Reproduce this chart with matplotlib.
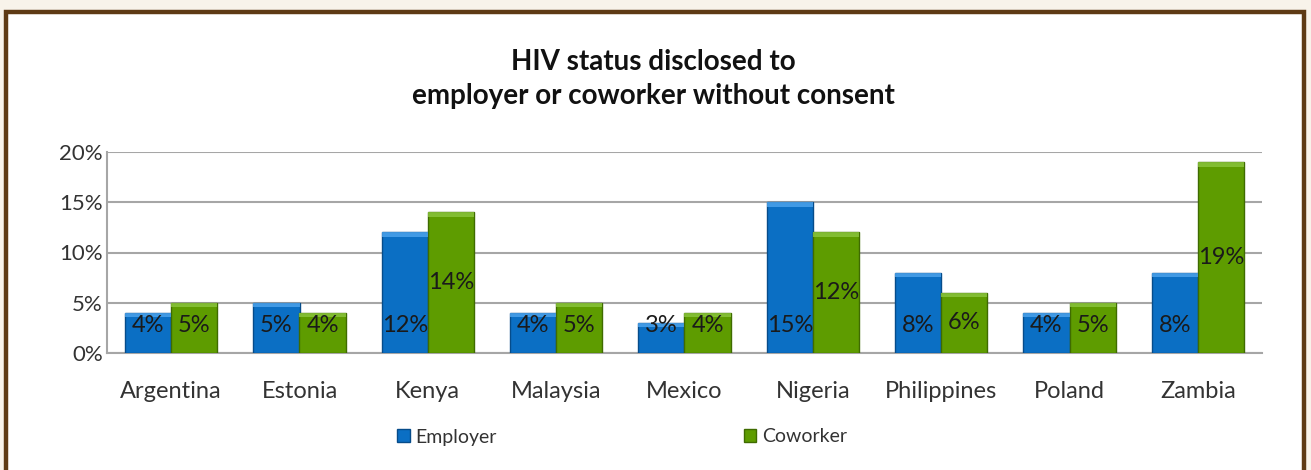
import matplotlib.pyplot as plt
from matplotlib.patches import Rectangle, Patch
import numpy as np

countries = ["Argentina", "Estonia", "Kenya", "Malaysia", "Mexico",
             "Nigeria", "Philippines", "Poland", "Zambia"]
employer = [4, 5, 12, 4, 3, 15, 8, 4, 8]
coworker = [5, 4, 14, 5, 4, 12, 6, 5, 19]
yticks = [0, 5, 10, 15, 20]

plt.rcParams["font.family"] = ["Lato", "DejaVu Sans"]

blue, blue_edge = "#0B6FC4", "#064C8A"
green, green_edge = "#5E9C00", "#3F6B00"

fig = plt.figure(figsize=(13.11, 4.70), dpi=100)
fig.patch.set_facecolor("#F8F3EA")

# white card with brown frame
fig.add_artist(Rectangle((6 / 1311, -0.05), 1298 / 1311, 1.05 - 12 / 470,
                         transform=fig.transFigure, facecolor="white",
                         edgecolor="#5E3A14", linewidth=3.2, zorder=0))

ax = fig.add_axes([107 / 1311, 1 - 353 / 470, 1155 / 1311, 201 / 470])
ax.set_facecolor("none")

x = np.arange(len(countries))
w = 0.36
b1 = ax.bar(x - w / 2, employer, w, color=blue, edgecolor=blue_edge,
            linewidth=1.0, zorder=3, label="Employer")
b2 = ax.bar(x + w / 2, coworker, w, color=green, edgecolor=green_edge,
            linewidth=1.0, zorder=3, label="Coworker")

# light bevel on top of each bar
for bars, light in ((b1, "#4FA6EE"), (b2, "#8CC63F")):
    for r in bars:
        ax.add_patch(Rectangle((r.get_x(), r.get_height() - 0.45), r.get_width(), 0.45,
                               facecolor=light, edgecolor="none", alpha=0.8, zorder=4))

for xi, v in zip(x, employer):
    ax.text(xi - w / 2, 2.7, f"{v}%", ha="center", va="center",
            fontsize=17, color="#1a1a1a", zorder=5)
for xi, v in zip(x, coworker):
    ax.text(xi + w / 2, max(v / 2, 2.7), f"{v}%", ha="center", va="center",
            fontsize=17, color="#1a1a1a", zorder=5)

ax.set_xlim(-0.5, len(countries) - 0.5)
ax.set_ylim(0, 20)
ax.set_yticks(yticks)
ax.set_yticklabels([f"{t}%" for t in yticks], fontsize=16, color="#333333")
ax.set_xticks(x)
ax.set_xticklabels(countries, fontsize=17, color="#333333")
ax.tick_params(length=0)
ax.tick_params(axis="x", pad=20)
ax.tick_params(axis="y", pad=3)
ax.grid(axis="y", color="#A6A6A6", linewidth=1.5, zorder=0)
for s in ("top", "right"):
    ax.spines[s].set_visible(False)
for s in ("left", "bottom"):
    ax.spines[s].set_color("#A6A6A6")
    ax.spines[s].set_linewidth(1.5)

fig.text(653 / 1311, 1 - 79 / 470, "HIV status disclosed to\nemployer or coworker without consent",
         ha="center", va="center", fontsize=20, fontweight="bold",
         color="#111111", linespacing=1.4)

handles = [Patch(facecolor=blue, edgecolor=blue_edge), Patch(facecolor=green, edgecolor=green_edge)]
fig.legend(handles, ["Employer", "Coworker"], loc="center", ncol=2,
           bbox_to_anchor=(622 / 1311, 1 - 437 / 470), frameon=False,
           fontsize=14, columnspacing=12.7, handlelength=0.65, handleheight=0.65,
           handletextpad=0.3, labelcolor="#333333")

fig.savefig("out.png", dpi=100, facecolor=fig.get_facecolor())
